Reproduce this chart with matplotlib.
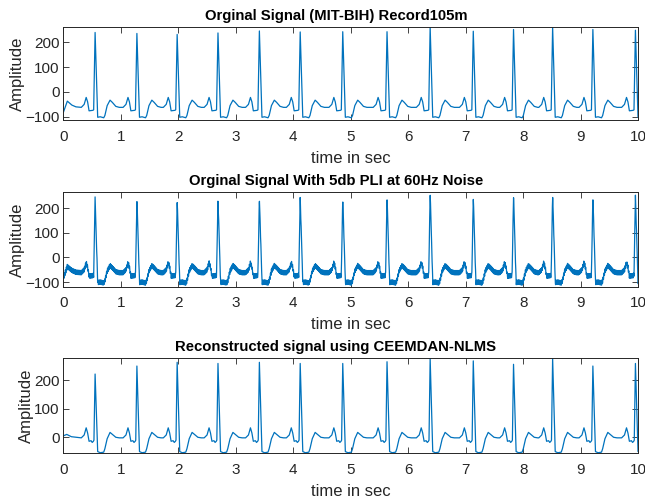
import numpy as np
import matplotlib
matplotlib.use("Agg")
import matplotlib.pyplot as plt

# ---------------- data ----------------
# R-peak times (s)
r_times = [0.553, 1.28, 1.98, 2.69, 3.41, 4.12, 4.86, 5.63, 6.38, 7.13, 7.83, 8.51, 9.21, 9.95]
# R-peak amplitudes
r_amp_orig = [240, 236, 232, 238, 246, 242, 243, 243, 262, 245, 252, 262, 252, 249]
r_amp_recon = [221, 249, 262, 258, 262, 258, 258, 264, 276, 267, 255, 276, 249, 258]

# beat shape knots: offset from R peak (s) and amplitude (None = R peak)
orig_beat_dt = [-0.24, -0.19, -0.155, -0.13, -0.105, -0.04, -0.025, 0.0, 0.045, 0.09, 0.15, 0.17, 0.21, 0.26, 0.30, 0.36, 0.42]
orig_beat_val = [-62, -50, -22, -40, -76, -74, -72, None, -102, -100, -104, -95, -55, -33, -42, -58, -62]
recon_beat_dt = [-0.24, -0.19, -0.155, -0.13, -0.105, -0.07, -0.05, -0.03, -0.02, 0.0, 0.045, 0.09, 0.15, 0.17, 0.21, 0.26, 0.30, 0.36, 0.42]
recon_beat_val = [-2, 8, 33, 15, -14, -12, -18, -14, -10, None, -50, -54, -52, -40, -5, 17, 10, 0, -2]

# start of the record (tail of the preceding beat)
orig_start_t = [0.0, 0.07, 0.15, 0.22]
orig_start_v = [-83, -37, -53, -60]
recon_start_t = [0.0, 0.06, 0.14, 0.22]
recon_start_v = [5, 10, 2, 0]

pli_freq = 60.0     # Hz, power-line interference
pli_amp = 9.0
fs = 360.0          # MIT-BIH sampling rate

titles = ["Orginal Signal (MIT-BIH) Record105m",
          "Orginal Signal With 5db PLI at 60Hz Noise",
          "Reconstructed signal using CEEMDAN-NLMS"]


def build(start_t, start_v, beat_dt, beat_val, amps):
    t = list(start_t)
    v = list(start_v)
    for rt, ra in zip(r_times, amps):
        for dt, val in zip(beat_dt, beat_val):
            t.append(rt + dt)
            v.append(ra if val is None else val)
    return np.array(t), np.array(v)


t_orig, v_orig = build(orig_start_t, orig_start_v, orig_beat_dt, orig_beat_val, r_amp_orig)
t_rec, v_rec = build(recon_start_t, recon_start_v, recon_beat_dt, recon_beat_val, r_amp_recon)

# noisy version: clean signal sampled at fs plus 60 Hz PLI
ts = np.arange(int(10 * fs)) / fs
v_noisy = np.interp(ts, t_orig, v_orig) + pli_amp * np.sin(2 * np.pi * pli_freq * ts + 0.5)

# ---------------- figure ----------------
plt.rcParams['font.family'] = ['Liberation Sans', 'DejaVu Sans']
fig = plt.figure(figsize=(6.45, 4.99), dpi=100)

L, W = 63.3 / 645, 575 / 645
boxes = [(27, 120), (192.3, 286.7), (358.3, 453.3)]
series = [(t_orig, v_orig), (ts, v_noisy), (t_rec, v_rec)]
ylims = [(-113, 262), (-119, 265), (-56, 276)]
yticks = [[-100, 0, 100, 200], [-100, 0, 100, 200], [0, 100, 200]]
line_color = '#0072BD'
edge = '#262626'

for (top, bot), (x, y), yl, yt, title in zip(boxes, series, ylims, yticks, titles):
    ax = fig.add_axes([L, 1 - bot / 499, W, (bot - top) / 499])
    ax.plot(x, y, color=line_color, lw=0.9)
    ax.set_xlim(0, 10)
    ax.set_ylim(*yl)
    ax.set_xticks(range(0, 11))
    ax.set_yticks(yt)
    ax.tick_params(direction='in', length=4, width=0.6, top=True, right=True,
                   labelsize=11, colors=edge)
    ax.tick_params(axis='x', pad=7)
    ax.tick_params(axis='y', pad=2.5)
    for s in ax.spines.values():
        s.set_color(edge)
        s.set_linewidth(0.7)
    ax.set_title(title, fontsize=10.7, fontweight='bold', pad=5, color='black',
                 x=0.474)
    ax.set_xlabel('time in sec', fontsize=12, color=edge, labelpad=5)
    ax.set_ylabel('Amplitude', fontsize=12, color=edge, labelpad=0)

fig.savefig('out.png', dpi=100)
